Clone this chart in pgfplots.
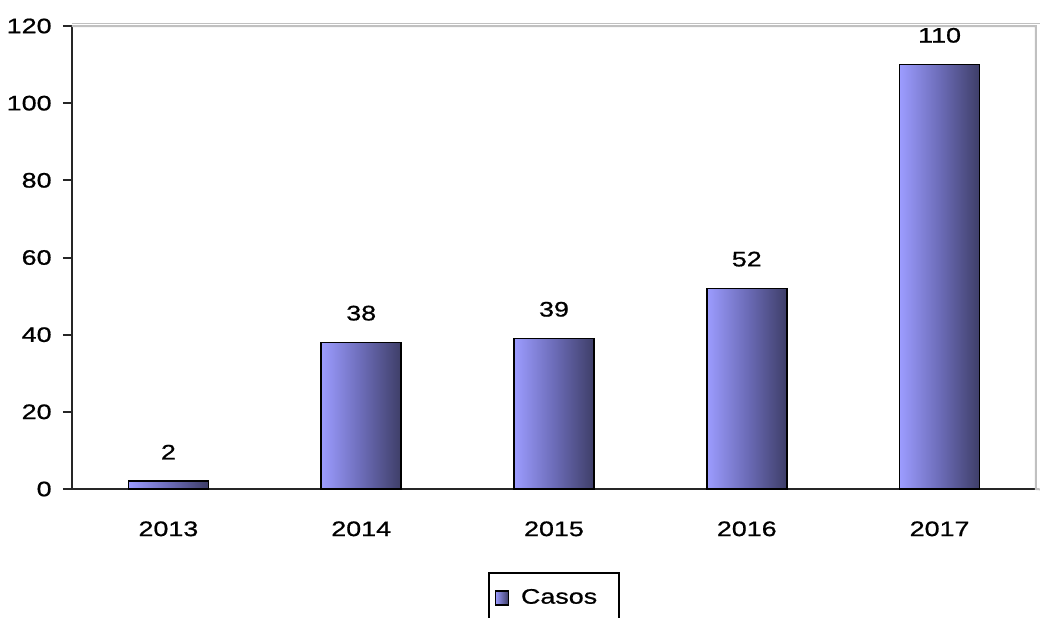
\documentclass[border=0pt]{standalone}
\usepackage{pgfplots}
\pgfplotsset{compat=1.18}
\usepackage{fontspec}
\setmainfont{Liberation Sans}[FakeStretch=1.28, FakeBold=0.8]
\definecolor{barL}{HTML}{9C9CFF}
\definecolor{barM}{HTML}{6C6CB8}
\definecolor{barR}{HTML}{3E3E68}
\definecolor{frame}{HTML}{C0C0C0}
\begin{document}
\fontsize{10.5}{12}\selectfont
\begin{tikzpicture}
\begin{axis}[
  name=ax, at={(0,0)}, anchor=south west,
  scale only axis, width=482pt, height=231.5pt,
  xmin=-0.5, xmax=4.5, ymin=0, ymax=120,
  axis x line*=bottom, axis y line*=left,
  axis line style={-, black!85, line width=1pt},
  ytick={0,20,...,120},
  xtick={0,1,2,3,4},
  xticklabels={2013,2014,2015,2016,2017},
  xtick style={draw=none},
  minor xtick={-0.5,0.5,...,4.5},
  minor tick length=4pt,
  major tick length=4.5pt,
  tick align=outside,
  tick style={black!85, line width=1pt},
  xticklabel style={yshift=-8pt},
  yticklabel style={xshift=-2pt},
  /pgf/number format/assume math mode=true,
  clip=false,
  legend style={at={(0.5,0)}, anchor=north, yshift=-41.5pt,
    draw=black, line width=1pt, inner xsep=3pt, inner ysep=6pt,
    nodes={inner xsep=3pt}},
  legend cell align=left,
  every axis plot/.append style={
    ybar, bar width=40pt, bar shift=0pt, draw=black, line width=0.8pt,
    left color=barL, right color=barR, middle color=barM,
    nodes near coords,
    every node near coord/.append style={anchor=south, yshift=7pt, font=\fontsize{10.5}{12}\selectfont, black}},
]
\addplot[legend image code/.code={
    \draw[black, line width=0.6pt, left color=barL, right color=barR] (0pt,-3.5pt) rectangle (6.5pt,3.5pt);
  }] coordinates {(0,2)};
\addlegendentry{\rule{3pt}{0pt}Casos\rule{5pt}{0pt}}
\addplot[forget plot] coordinates {(1,38)};
\addplot[forget plot] coordinates {(2,39)};
\addplot[forget plot] coordinates {(3,52)};
\addplot[forget plot] coordinates {(4,110)};
\draw[frame, line width=1pt] (rel axis cs:0,1) -- (rel axis cs:1,1) -- (rel axis cs:1,0) -- ++(0,-4pt);
\end{axis}
\draw[frame, line width=0.8pt] (0,232.8pt) -- (484pt,232.8pt);
\pgfresetboundingbox
\useasboundingbox (-36pt,-64pt) rectangle (484pt,244.5pt);
\end{tikzpicture}
\end{document}
